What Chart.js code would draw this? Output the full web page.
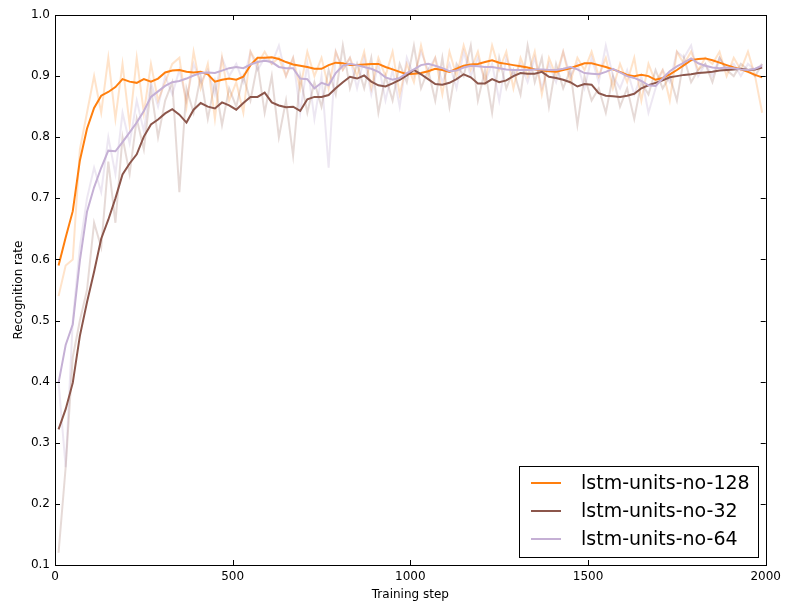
<!DOCTYPE html>
<html>
<head>
<meta charset="utf-8">
<script src="https://cdn.jsdelivr.net/npm/chart.js@4.4.1/dist/chart.umd.min.js"></script>
<style>
  html, body { margin: 0; padding: 0; background: #fff; }
  #wrap { width: 786px; height: 605px; position: relative; }
</style>
</head>
<body>
<div id="wrap"><canvas id="chart" width="786" height="605"></canvas></div>
<script>
// x sampling grid (training steps)
const steps = Array.from({ length: 100 }, (_, i) => 10 + 20 * i);

const seriesNames = ['lstm-units-no-128', 'lstm-units-no-32', 'lstm-units-no-64'];
const xTicks = [0, 500, 1000, 1500, 2000];
const yTicks = [0.1, 0.2, 0.3, 0.4, 0.5, 0.6, 0.7, 0.8, 0.9, 1.0];

// smoothed curves
const smooth128 = [
  0.590, 0.636, 0.679, 0.762, 0.814, 0.848, 0.868, 0.874, 0.882, 0.895,
  0.891, 0.889, 0.895, 0.891, 0.896, 0.906, 0.909, 0.910, 0.907, 0.906,
  0.907, 0.903, 0.891, 0.894, 0.896, 0.894, 0.899, 0.918, 0.930, 0.930,
  0.931, 0.928, 0.923, 0.919, 0.917, 0.915, 0.912, 0.912, 0.918, 0.922,
  0.921, 0.918, 0.918, 0.919, 0.920, 0.920, 0.915, 0.911, 0.907, 0.903,
  0.904, 0.905, 0.908, 0.912, 0.910, 0.907, 0.912, 0.917, 0.919, 0.920,
  0.923, 0.926, 0.922, 0.920, 0.918, 0.916, 0.914, 0.911, 0.909, 0.908,
  0.907, 0.910, 0.913, 0.917, 0.921, 0.921, 0.918, 0.915, 0.911, 0.907,
  0.902, 0.900, 0.902, 0.900, 0.894, 0.897, 0.903, 0.910, 0.918, 0.926,
  0.928, 0.929, 0.926, 0.922, 0.918, 0.914, 0.911, 0.907, 0.902, 0.898
];
const smooth32 = [
  0.322, 0.355, 0.398, 0.475, 0.530, 0.580, 0.634, 0.665, 0.700, 0.739,
  0.757, 0.772, 0.801, 0.821, 0.829, 0.839, 0.846, 0.837, 0.824, 0.845,
  0.856, 0.850, 0.847, 0.857, 0.852, 0.845, 0.856, 0.866, 0.866, 0.873,
  0.857, 0.852, 0.849, 0.850, 0.843, 0.862, 0.866, 0.866, 0.869, 0.880,
  0.890, 0.899, 0.896, 0.901, 0.891, 0.885, 0.883, 0.888, 0.894, 0.901,
  0.910, 0.903, 0.895, 0.887, 0.886, 0.889, 0.895, 0.903, 0.898, 0.888,
  0.888, 0.895, 0.890, 0.893, 0.900, 0.905, 0.904, 0.904, 0.907, 0.899,
  0.897, 0.894, 0.890, 0.883, 0.887, 0.886, 0.872, 0.868, 0.867, 0.866,
  0.868, 0.871, 0.880, 0.885, 0.889, 0.893, 0.898, 0.900, 0.902, 0.903,
  0.905, 0.906, 0.907, 0.909, 0.910, 0.911, 0.912, 0.910, 0.911, 0.914
];
const smooth64 = [
  0.398, 0.460, 0.494, 0.598, 0.678, 0.718, 0.750, 0.778, 0.777, 0.792,
  0.808, 0.824, 0.843, 0.866, 0.875, 0.884, 0.890, 0.892, 0.896, 0.901,
  0.905, 0.906, 0.905, 0.909, 0.913, 0.915, 0.913, 0.919, 0.923, 0.925,
  0.923, 0.915, 0.913, 0.913, 0.896, 0.895, 0.880, 0.889, 0.885, 0.905,
  0.917, 0.920, 0.918, 0.915, 0.912, 0.907, 0.898, 0.894, 0.897, 0.905,
  0.911, 0.918, 0.920, 0.917, 0.913, 0.908, 0.909, 0.914, 0.917, 0.916,
  0.915, 0.915, 0.913, 0.911, 0.910, 0.910, 0.910, 0.911, 0.911, 0.910,
  0.910, 0.912, 0.915, 0.911, 0.905, 0.904, 0.903, 0.907, 0.912, 0.906,
  0.900, 0.897, 0.892, 0.885, 0.884, 0.896, 0.908, 0.916, 0.922, 0.929,
  0.921, 0.917, 0.914, 0.913, 0.914, 0.913, 0.911, 0.910, 0.912, 0.917
];

// raw (unsmoothed) curves
const raw128 = [
  0.54, 0.59, 0.60, 0.78, 0.84, 0.90, 0.84, 0.93, 0.83, 0.92,
  0.82, 0.93, 0.84, 0.92, 0.86, 0.89, 0.92, 0.93, 0.85, 0.94,
  0.88, 0.92, 0.83, 0.93, 0.86, 0.89, 0.84, 0.94, 0.92, 0.94,
  0.92, 0.93, 0.90, 0.93, 0.88, 0.94, 0.90, 0.93, 0.88, 0.94,
  0.91, 0.93, 0.90, 0.94, 0.88, 0.93, 0.90, 0.94, 0.87, 0.92,
  0.89, 0.95, 0.90, 0.93, 0.87, 0.94, 0.90, 0.95, 0.91, 0.94,
  0.89, 0.95, 0.91, 0.94, 0.88, 0.93, 0.90, 0.94, 0.87, 0.93,
  0.90, 0.94, 0.89, 0.93, 0.91, 0.94, 0.90, 0.93, 0.88, 0.92,
  0.89, 0.93, 0.86, 0.92, 0.89, 0.91, 0.86, 0.94, 0.92, 0.94,
  0.91, 0.93, 0.92, 0.94, 0.90, 0.93, 0.91, 0.94, 0.90, 0.84
];
const raw32 = [
  0.12, 0.26, 0.44, 0.50, 0.55, 0.66, 0.62, 0.76, 0.66, 0.80,
  0.74, 0.83, 0.78, 0.88, 0.80, 0.86, 0.89, 0.71, 0.88, 0.84,
  0.90, 0.83, 0.89, 0.82, 0.88, 0.85, 0.90, 0.86, 0.92, 0.84,
  0.90, 0.80, 0.86, 0.77, 0.90, 0.84, 0.89, 0.85, 0.91, 0.87,
  0.95, 0.88, 0.92, 0.88, 0.93, 0.84, 0.90, 0.86, 0.92, 0.89,
  0.95, 0.88, 0.91, 0.86, 0.93, 0.85, 0.92, 0.90, 0.95, 0.86,
  0.91, 0.84, 0.93, 0.88, 0.91, 0.87, 0.95, 0.89, 0.93, 0.85,
  0.92, 0.88, 0.91, 0.82, 0.90, 0.86, 0.88, 0.84, 0.90, 0.85,
  0.88, 0.83, 0.89, 0.87, 0.91, 0.88, 0.90, 0.86, 0.93, 0.89,
  0.91, 0.92, 0.89, 0.93, 0.91, 0.90, 0.92, 0.91, 0.90, 0.92
];
const raw64 = [
  0.40, 0.26, 0.50, 0.62, 0.70, 0.75, 0.71, 0.80, 0.74, 0.84,
  0.79, 0.86, 0.81, 0.89, 0.85, 0.90, 0.87, 0.91, 0.86, 0.92,
  0.89, 0.91, 0.87, 0.93, 0.90, 0.92, 0.89, 0.94, 0.91, 0.93,
  0.92, 0.95, 0.90, 0.93, 0.84, 0.92, 0.83, 0.90, 0.75, 0.94,
  0.91, 0.93, 0.88, 0.93, 0.87, 0.92, 0.86, 0.91, 0.85, 0.93,
  0.90, 0.94, 0.91, 0.93, 0.89, 0.92, 0.88, 0.94, 0.90, 0.93,
  0.89, 0.92, 0.86, 0.93, 0.90, 0.92, 0.89, 0.93, 0.88, 0.92,
  0.89, 0.94, 0.90, 0.92, 0.88, 0.93, 0.89, 0.95, 0.90, 0.88,
  0.91, 0.87, 0.90, 0.84, 0.88, 0.91, 0.89, 0.94, 0.93, 0.95,
  0.90, 0.92, 0.90, 0.93, 0.91, 0.92, 0.90, 0.92, 0.91, 0.92
];

const colors = ['#ff7f0e', '#8c564b', '#c5b0d5'];
const rawColors = ['rgba(255,127,14,0.22)', 'rgba(140,86,75,0.22)', 'rgba(197,176,213,0.3)'];

const toPts = arr => arr.map((v, i) => ({ x: steps[i], y: v }));

const rawSets = [raw128, raw32, raw64].map((arr, i) => ({
  label: seriesNames[i] + ' (raw)',
  data: toPts(arr),
  borderColor: rawColors[i],
  borderWidth: 2,
  pointRadius: 0,
  tension: 0,
  order: 10 + i
}));
const smoothSets = [smooth128, smooth32, smooth64].map((arr, i) => ({
  label: seriesNames[i],
  data: toPts(arr),
  borderColor: colors[i],
  borderWidth: 2,
  pointRadius: 0,
  tension: 0,
  order: 3 - i
}));

const font = { family: 'DejaVu Sans', size: 12 };

// frame, inward ticks on all sides, and the legend box
const framePlugin = {
  id: 'frame',
  afterDraw(chart) {
    const { ctx, chartArea: a, scales } = chart;
    ctx.save();
    ctx.strokeStyle = '#000';
    ctx.lineWidth = 1;
    ctx.beginPath();
    xTicks.forEach(t => {
      const px = Math.round(scales.x.getPixelForValue(t)) + 0.5;
      ctx.moveTo(px, a.bottom); ctx.lineTo(px, a.bottom - 5);
      ctx.moveTo(px, a.top); ctx.lineTo(px, a.top + 5);
    });
    yTicks.forEach(t => {
      const py = Math.round(scales.y.getPixelForValue(t)) + 0.5;
      ctx.moveTo(a.left, py); ctx.lineTo(a.left + 5, py);
      ctx.moveTo(a.right, py); ctx.lineTo(a.right - 5, py);
    });
    ctx.stroke();
    ctx.strokeRect(Math.round(a.left) + 0.5, Math.round(a.top) + 0.5,
      Math.round(a.right - a.left), Math.round(a.bottom - a.top));

    // legend
    const bx = 519, by = 466, bw = 239, bh = 91;
    ctx.fillStyle = '#fff';
    ctx.fillRect(bx, by, bw, bh);
    ctx.strokeStyle = '#000';
    ctx.strokeRect(bx + 0.5, by + 0.5, bw, bh);
    ctx.font = '19px "DejaVu Sans"';
    ctx.textBaseline = 'middle';
    ctx.textAlign = 'left';
    seriesNames.forEach((name, i) => {
      const y = by + 17 + i * 28;
      ctx.strokeStyle = colors[i];
      ctx.lineWidth = 2;
      ctx.beginPath();
      ctx.moveTo(531, y); ctx.lineTo(561, y);
      ctx.stroke();
      ctx.fillStyle = '#000';
      ctx.fillText(name, 581, y + 1);
    });
    ctx.restore();
  }
};

new Chart(document.getElementById('chart'), {
  type: 'line',
  data: { datasets: [...rawSets, ...smoothSets] },
  options: {
    responsive: false,
    animation: false,
    layout: { padding: { left: 0, top: 15, right: 18, bottom: 0 } },
    plugins: { legend: { display: false }, tooltip: { enabled: false } },
    scales: {
      x: {
        type: 'linear',
        min: 0, max: 2000,
        afterBuildTicks: s => { s.ticks = xTicks.map(v => ({ value: v })); },
        afterFit: s => { s.height = 40; },
        grid: { display: false, drawTicks: false },
        border: { display: false },
        ticks: { font, color: '#000', padding: 5, maxRotation: 0, callback: v => String(v) },
        title: { display: true, text: 'Training step', font, color: '#000', padding: { top: 0, bottom: 3 } }
      },
      y: {
        type: 'linear',
        min: 0.1, max: 1.0,
        afterBuildTicks: s => { s.ticks = yTicks.map(v => ({ value: v })); },
        afterFit: s => { s.width = 55; },
        grid: { display: false, drawTicks: false },
        border: { display: false },
        ticks: { font, color: '#000', padding: 5, callback: v => v.toFixed(1) },
        title: { display: true, text: 'Recognition rate', font, color: '#000', padding: { top: 12, bottom: 0 } }
      }
    }
  },
  plugins: [framePlugin]
});
</script>
</body>
</html>
